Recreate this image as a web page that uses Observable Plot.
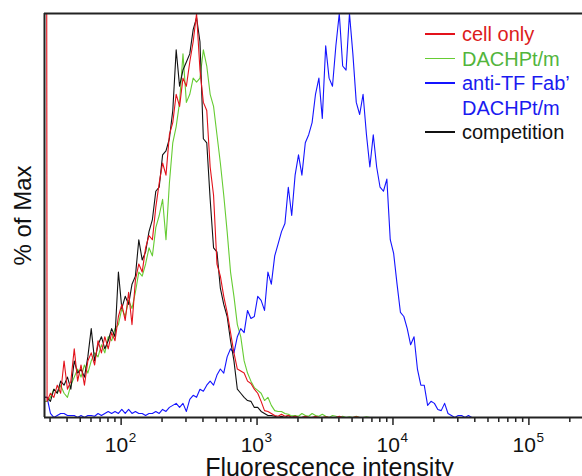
<!DOCTYPE html>
<html><head><meta charset="utf-8">
<script src="https://cdn.jsdelivr.net/npm/d3@7"></script>
<script src="https://cdn.jsdelivr.net/npm/@observablehq/plot@0.6"></script>
<style>
html,body{margin:0;padding:0;background:#fff;overflow:hidden}
#wrap{position:relative;width:582px;height:476px;font-family:"Liberation Sans",Arial,sans-serif}
.row{position:absolute;left:425px;height:25px;font-size:20px;line-height:25px;white-space:nowrap}
.row .ln{position:absolute;left:0;top:11px;width:30px;height:1.6px}
.row .tx{position:absolute;left:37px;top:0}
</style>
</head><body><div id="wrap"></div>
<script>
// Histogram bin positions (log10 of fluorescence intensity)
const binExponent = [
1.430,1.455,1.480,1.505,1.530,1.555,1.580,1.605,1.630,1.655,
1.680,1.705,1.730,1.755,1.780,1.805,1.830,1.855,1.880,1.905,
1.930,1.955,1.980,2.005,2.030,2.055,2.080,2.105,2.130,2.155,
2.180,2.205,2.230,2.255,2.280,2.305,2.330,2.355,2.380,2.405,
2.430,2.455,2.480,2.505,2.530,2.555,2.580,2.605,2.630,2.655,
2.680,2.705,2.730,2.755,2.780,2.805,2.830,2.855,2.880,2.905,
2.930,2.955,2.980,3.005,3.030,3.055,3.080,3.105,3.130,3.155,
3.180,3.205,3.230,3.255,3.280,3.305,3.330,3.355,3.380,3.405,
3.430,3.455,3.480,3.505,3.530,3.555,3.580,3.605,3.630,3.655,
3.680,3.705,3.730,3.755,3.780,3.805,3.830,3.855,3.880,3.905,
3.930,3.955,3.980,4.005,4.030,4.055,4.080,4.105,4.130,4.155,
4.180,4.205,4.230,4.255,4.280,4.305,4.330,4.355,4.380,4.405,
4.430,4.455,4.480,4.505,4.530,4.555,4.580];

// % of Max per bin
const cellOnly = [1000,
4,6,5,8,6,14,7,9,17,9,
13,8,14,16,13,19,16,20,17,21,
19,25,28,24,31,23,34,38,36,42,
45,44,52,58,63,60,70,73,80,77,
84,82,88,93,100,86,78,76,62,55,
38,35,30,26,21,16,12,11.5,11,9,
8.4,7,6,4,1.7,1.5,1,0.5,0.3,0.8,
0.3,0.5,0,0.3,0,0,0.3,0,0,0.3,
0,0,0.2,0,0,0,0.3,0,0,0,
0,0.2,0,0,0,0,0,0,0,0,0];

const dachpt = [4,
4,5,7,6,8,6,5,8,10,12,
10,13,11,14,16,15,18,16,20,19,
22,23,27,25,29,27,31,36,35,38,
42,40,47,50,54,44,58,68,72,78,
90,78,80,84,83,84,91,87,80,77,
70,63,55,46,36,30,23,20,14,11,
9,7.4,6.7,6,4.2,5,3,1.7,1.5,1.5,
1,0.8,0.4,0.5,0.3,1,0.5,0.3,1,0.5,
0.3,0.8,0.3,0,0.5,0.3,0,0.3,0,0.2,
0,0.3,0,0,0.2,0,0,0,0,0,0];

const antiTF = [5,
5,1,0,0.5,1,1,0.5,0.5,0.5,0,
0.5,0,0.5,0.5,0.3,1,0.5,1,1.5,1,
1.5,1,2,1,2,1,1.5,1,1,0.5,
1,1,1.5,1,2,1.5,2.5,3,3.5,2.5,
3.5,1.5,4.5,5.5,5,7,6.5,8,9,8,
10.5,12,11,15,17,16,20,22,21,26.5,
24.5,25,30,29,26.5,36,33,40,43,46,
48,57,50,60,65,60,68,70,73,80,
84,74,92,84,82,92,100,87,86,100,
90,78,75,80,70,62,70,62,57,56,
59,44,40.6,33,26,25,22,18,20,12,
8,8,3,4,3.5,2,1.7,3.5,1,0.5,
0,0.5,0.5,0,0.5,0];

const competition = [5,
5,4,7,6,9,8,10,7,14,11,
12,10,15,22,14,18,20,17,19,22,
20,36,27,30,28,33,35,44,39,41,
46,49,56,57,65,66,69,76,91,82,
86,88,90,96,99,93,69,68,54,42,
41,32,28,25,19,14,7,6,5,4.2,
4,2.5,2.5,1.5,1,0.5,0.5,0.3,0,0.3,
0,0.5,0,0.3,0,0,0.2,0,0,0,0];

const seriesNames = ["cell only", "DACHPt/m", "anti-TF Fab’ DACHPt/m", "competition"];
const seriesColors = ["#e3121b", "#66cc33", "#1414ff", "#111111"];
const legendText = [["cell only"], ["DACHPt/m"], ["anti-TF Fab’", "DACHPt/m"], ["competition"]];
const legendTextColors = ["#dc1c1c", "#52b53c", "#1a1af0", "#111111"];

const decadeTicks = [100, 1000, 10000, 100000];
const decadeExponents = ["2", "3", "4", "5"];
const minorTicks = [30,40,50,60,70,80,90,200,300,400,500,600,700,800,900,
  2000,3000,4000,5000,6000,7000,8000,9000,20000,30000,40000,50000,60000,70000,80000,90000,200000];
const xDomain = [27.3, 248000];
const yDomain = [0, 100];

const tableOf = (vals) => vals.map((v, j) => ({intensity: Math.pow(10, binExponent[j]), pct: v}));
const seriesData = [cellOnly, dachpt, antiTF, competition].map(tableOf);

const font = '"Liberation Sans", Arial, sans-serif';
const lineOpts = (i) => ({x: "intensity", y: "pct", stroke: seriesColors[i], strokeWidth: 1.1, clip: true});

const chart = Plot.plot({
  width: 582, height: 476,
  marginTop: 13, marginBottom: 59, marginLeft: 44, marginRight: 0,
  style: {fontFamily: font, background: "#fff", color: "#222"},
  x: {type: "log", domain: xDomain, axis: null},
  y: {domain: yDomain, axis: null},
  marks: [
    Plot.line(seriesData[1], lineOpts(1)),
    Plot.line(seriesData[2], lineOpts(2)),
    Plot.line(seriesData[3], lineOpts(3)),
    Plot.line(seriesData[0], lineOpts(0)),
    Plot.ruleY([yDomain[0], yDomain[1]], {stroke: "#222", strokeWidth: 2}),
    Plot.ruleX([xDomain[0]], {stroke: "#222", strokeWidth: 2}),
    Plot.axisX(decadeTicks, {anchor: "bottom", tickSize: 8, text: null, label: null, stroke: "#222", strokeWidth: 1.5}),
    Plot.axisX(minorTicks, {anchor: "bottom", tickSize: 5, text: null, label: null, stroke: "#222", strokeWidth: 1.5}),
    Plot.text(decadeTicks, {x: d => d, text: () => "10", frameAnchor: "bottom", lineAnchor: "bottom",
      textAnchor: "end", dx: 7, dy: 34.7, fontSize: 21, fill: "#111"}),
    Plot.text(decadeTicks, {x: d => d, text: (d, i) => decadeExponents[i], frameAnchor: "bottom", lineAnchor: "bottom",
      textAnchor: "start", dx: 7.5, dy: 24.5, fontSize: 13.5, fill: "#111"}),
    Plot.text(["Fluorescence intensity"], {frameAnchor: "bottom", lineAnchor: "bottom", textAnchor: "middle",
      dx: 16, dy: 58.5, fontSize: 25, fill: "#111"}),
    Plot.text(["% of Max"], {frameAnchor: "left", rotate: -90, textAnchor: "middle", lineAnchor: "middle",
      dx: -21, fontSize: 24, fill: "#111"})
  ]
});

const wrap = document.getElementById("wrap");
wrap.appendChild(chart);

const rowTops = [22.3, 46.8, 71.3, 95.8, 120.3];
let r = 0;
legendText.forEach((lines, i) => {
  lines.forEach((t, k) => {
    const row = document.createElement("div");
    row.className = "row";
    row.style.top = rowTops[r] + "px";
    if (k === 0) {
      const ln = document.createElement("span");
      ln.className = "ln";
      ln.style.background = seriesColors[i];
      row.appendChild(ln);
    }
    const tx = document.createElement("span");
    tx.className = "tx";
    tx.style.color = legendTextColors[i];
    tx.textContent = t;
    row.appendChild(tx);
    wrap.appendChild(row);
    r++;
  });
});
</script></body></html>
